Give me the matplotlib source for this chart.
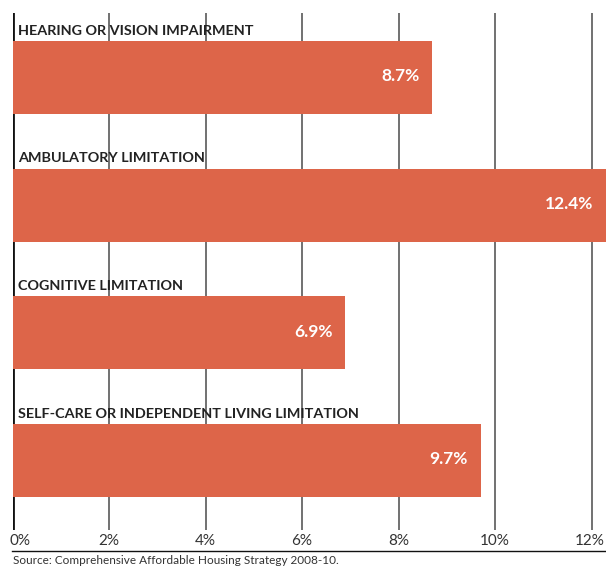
import matplotlib.pyplot as plt
from matplotlib.lines import Line2D

categories = ["HEARING OR VISION IMPAIRMENT", "AMBULATORY LIMITATION",
              "COGNITIVE LIMITATION", "SELF-CARE OR INDEPENDENT LIVING LIMITATION"]
values = [8.7, 12.4, 6.9, 9.7]
ticks = [0, 2, 4, 6, 8, 10, 12]
tick_labels = ["0%", "2%", "4%", "6%", "8%", "10%", "12%"]
source = "Source: Comprehensive Affordable Housing Strategy 2008-10."

BAR = "#DD6549"
plt.rcParams["font.family"] = ["Lato", "DejaVu Sans"]

fig = plt.figure(figsize=(6.06, 5.67), dpi=100)
ax = fig.add_axes([12.5 / 606, 37 / 567, 1 - 12.5 / 606, 517 / 567])

y = list(range(len(categories)))
ax.barh(y, values, height=0.57, color=BAR, zorder=2)

for t in ticks:
    ax.axvline(t, color="#111111" if t == 0 else "#666666",
               lw=2.0 if t == 0 else 1.3, zorder=1)

for i, (cat, v) in enumerate(zip(categories, values)):
    ax.text(0.12, i - 0.32, cat, fontsize=10.4, fontweight="bold",
            color="#222222", ha="left", va="bottom", zorder=3)
    xv = min(v, 12.3) - 0.27
    ax.text(xv, i - 0.01, f"{v}%", fontsize=12.5, fontweight="bold",
            color="white", ha="right", va="center", zorder=3)

ax.set_xlim(0, (606 - 12.5) / 48.25)
ax.set_ylim(3.544, -0.505)
ax.set_xticks([])
ax.set_yticks([])
for s in ax.spines.values():
    s.set_visible(False)

# tick labels below the plot
for t, lab in zip(ticks, tick_labels):
    px = 12.5 + t * 48.25
    ha = "center"
    if t == 0:
        ha, px = "left", 9
    elif t == 12:
        ha, px = "right", 605
    fig.text(px / 606, 1 - 541 / 567, lab, fontsize=11, color="#333333",
             ha=ha, va="center")

fig.add_artist(Line2D([12 / 606, 1], [1 - 551 / 567] * 2, color="#111111",
                      lw=1.0, transform=fig.transFigure))
fig.text(13 / 606, 1 - 561 / 567, source, fontsize=8.5, color="#333333",
         ha="left", va="center")

fig.savefig("out.png", dpi=100)
